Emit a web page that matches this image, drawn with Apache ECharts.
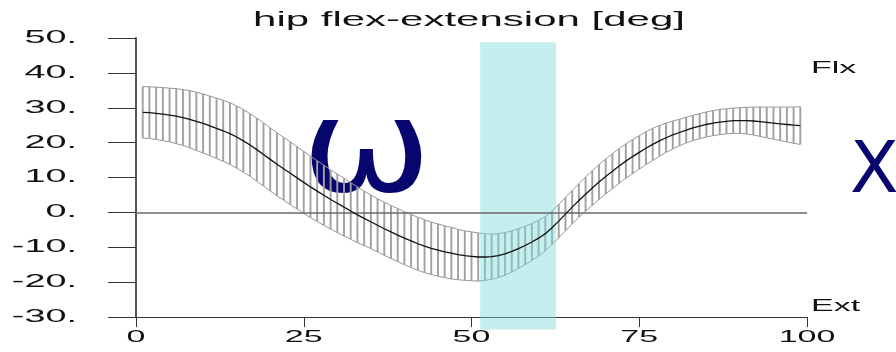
<!DOCTYPE html>
<html><head><meta charset="utf-8">
<script src="https://cdn.jsdelivr.net/npm/echarts@6/dist/echarts.min.js"></script>
<style>html,body{margin:0;padding:0;background:#fff}#c{width:896px;height:352px}</style>
</head><body><div id="c"></div>
<script>
const titleText = 'hip flex-extension [deg]';
const xValues = [1,2,3,4,5,6,7,8,9,10,11,12,13,14,15,16,17,18,19,20,21,22,23,24,25,26,27,28,29,30,31,32,33,34,35,36,37,38,39,40,41,42,43,44,45,46,47,48,49,50,51,52,53,54,55,56,57,58,59,60,61,62,63,64,65,66,67,68,69,70,71,72,73,74,75,76,77,78,79,80,81,82,83,84,85,86,87,88,89,90,91,92,93,94,95,96,97,98,99];
const meanValues = [28.7,28.6,28.4,28.2,27.9,27.6,27.2,26.7,26.1,25.5,24.8,24.1,23.4,22.6,21.6,20.5,19.3,18.0,16.6,15.2,13.8,12.5,11.2,9.9,8.6,7.3,6.1,4.9,3.7,2.6,1.5,0.4,-0.7,-1.7,-2.7,-3.7,-4.7,-5.6,-6.5,-7.4,-8.2,-9.0,-9.7,-10.3,-10.8,-11.3,-11.7,-12.1,-12.4,-12.6,-12.8,-12.8,-12.7,-12.4,-11.9,-11.2,-10.4,-9.5,-8.5,-7.4,-6.1,-4.4,-2.5,-0.5,1.5,3.4,5.2,7.0,8.7,10.3,11.8,13.3,14.7,16.0,17.2,18.4,19.5,20.5,21.4,22.2,22.9,23.6,24.2,24.7,25.2,25.6,25.9,26.1,26.3,26.3,26.3,26.2,26.0,25.8,25.6,25.4,25.2,25.0,24.9];
const sdValues = [7.4,7.4,7.5,7.6,7.7,7.9,8.0,8.2,8.35,8.45,8.55,8.65,8.75,8.85,8.9,8.95,9.0,9.05,9.05,9.05,9.05,9.0,9.0,8.9,8.9,8.8,8.7,8.6,8.5,8.4,8.3,8.1,8.0,7.8,7.7,7.6,7.6,7.6,7.6,7.6,7.6,7.6,7.6,7.5,7.5,7.4,7.4,7.2,7.1,7.0,6.9,6.7,6.5,6.3,6.1,5.9,5.7,5.5,5.3,5.1,4.9,4.8,4.8,4.8,4.8,4.8,4.9,5.0,5.0,5.0,5.0,5.0,4.9,4.9,4.8,4.7,4.6,4.4,4.2,4.0,3.8,3.7,3.6,3.6,3.6,3.6,3.6,3.6,3.6,3.7,3.8,4.0,4.2,4.4,4.6,4.8,5.0,5.2,5.4];
const xTickValues = [0, 25, 50, 75, 100];
const xTickLabels = ['0', '25', '50', '75', '100'];
const yTickValues = [50, 40, 30, 20, 10, 0, -10, -20, -30];
const yTickLabels = ['50.', '40.', '30.', '20.', '10.', '0.', '-10.', '-20.', '-30.'];
const highlightX = [51.3, 62.6];
const highlightY = [48.8, -33.6];
const sideLabels = ['Flx', 'Ext'];
const overlayGlyphs = ['\u03C9', 'X'];

const chart = echarts.init(document.getElementById('c'), null, {renderer: 'canvas'});
const FONT_FAMILY = '"Liberation Sans", Arial, Helvetica, sans-serif';
const GLYPH_FAMILY = '"DejaVu Sans", sans-serif';
const measureCtx = document.createElement('canvas').getContext('2d');
function textWidth(t, size, family) {
  measureCtx.font = size + 'px ' + (family || FONT_FAMILY);
  return measureCtx.measureText(t).width;
}

function txt(x, y, text, align, vAlign, size, fill, sx, family) {
  return {
    type: 'text', x: x, y: y, scaleX: sx, silent: true,
    style: {
      text: text, fontSize: size, fontFamily: family || FONT_FAMILY, fill: fill,
      align: align, verticalAlign: vAlign, textAlign: align, textVerticalAlign: vAlign
    }
  };
}
// horizontally stretched text placed by its centre
function txtRight(rightX, y, text, size, fill, sx) {
  const w = textWidth(text, size) * sx;
  return txt(rightX - w / 2, y, text, 'center', 'middle', size, fill, sx);
}
function txtLeft(leftX, y, text, size, fill, sx, family) {
  const w = textWidth(text, size, family) * sx;
  return txt(leftX + w / 2, y, text, 'center', 'middle', size, fill, sx, family);
}

const baseGraphics = [
  txt(469, 20, titleText, 'center', 'middle', 21, '#111', 2),
  txtLeft(811, 68, sideLabels[0], 17, '#111', 2),
  txtLeft(811, 306, sideLabels[1], 17, '#111', 2),
  txt(366.5, 157.5, overlayGlyphs[0], 'center', 'middle', 130, '#06066e', 1.2, GLYPH_FAMILY),
  txtLeft(850, 173.5, overlayGlyphs[1], 71, '#06066e', 1, GLYPH_FAMILY)
];

const option = {
  animation: false,
  backgroundColor: '#ffffff',
  grid: {left: 136, right: 89, top: 38, bottom: 35},
  xAxis: {
    type: 'value', min: 0, max: 100, interval: 25,
    axisLine: {show: true, onZero: false, lineStyle: {color: '#333', width: 1}},
    axisTick: {show: true, inside: false, length: 10, lineStyle: {color: '#333', width: 1}},
    axisLabel: {show: false},
    splitLine: {show: false}
  },
  yAxis: {
    type: 'value', min: -30, max: 50, interval: 10,
    axisLine: {show: true, onZero: false, lineStyle: {color: '#555', width: 2}},
    axisTick: {show: true, inside: false, length: 28, lineStyle: {color: '#333', width: 1}},
    axisLabel: {show: false},
    splitLine: {show: false}
  },
  graphic: baseGraphics,
  series: [
    {
      type: 'custom', name: 'sd-hatch', z: 1, silent: true, clip: false,
      data: xValues.map((x, i) => [x, meanValues[i], sdValues[i]]),
      encode: {x: 0, y: 1},
      renderItem: function (params, api) {
        const x = api.value(0), m = api.value(1), s = api.value(2);
        const p1 = api.coord([x, m + s]), p2 = api.coord([x, m - s]);
        return {type: 'line', shape: {x1: p1[0], y1: p1[1], x2: p2[0], y2: p2[1]},
          style: {stroke: '#a0a0a0', lineWidth: 1.9}};
      }
    },
    {
      type: 'line', name: 'upper', z: 2, silent: true, showSymbol: false, symbol: 'none',
      data: xValues.map((x, i) => [x, meanValues[i] + sdValues[i]]),
      lineStyle: {color: '#999', width: 1}
    },
    {
      type: 'line', name: 'lower', z: 2, silent: true, showSymbol: false, symbol: 'none',
      data: xValues.map((x, i) => [x, meanValues[i] - sdValues[i]]),
      lineStyle: {color: '#999', width: 1}
    },
    {
      type: 'custom', name: 'highlight', z: 3, silent: true, clip: false,
      data: [[highlightX[0], highlightY[0], highlightX[1], highlightY[1]]],
      encode: {x: 0, y: 1},
      renderItem: function (params, api) {
        const a = api.coord([api.value(0), api.value(1)]);
        const b = api.coord([api.value(2), api.value(3)]);
        return {type: 'rect', shape: {x: a[0], y: a[1], width: b[0] - a[0], height: b[1] - a[1]},
          style: {fill: 'rgba(120,215,215,0.43)'}};
      }
    },
    {
      type: 'line', name: 'mean', z: 5, silent: true, showSymbol: false, symbol: 'none',
      data: xValues.map((x, i) => [x, meanValues[i]]),
      lineStyle: {color: '#111', width: 1.3},
      markLine: {
        silent: true, symbol: ['none', 'none'], label: {show: false},
        lineStyle: {color: '#6a6a6a', width: 1.5, type: 'solid'},
        data: [{yAxis: 0}]
      }
    }
  ]
};
chart.setOption(option);

// Tick labels: placed through the chart's own axis scales, stretched like the reference.
const labelGraphics = [];
yTickValues.forEach(function (v, i) {
  const p = chart.convertToPixel({gridIndex: 0}, [0, v]);
  labelGraphics.push(txtRight(p[0] - 59, p[1], yTickLabels[i], 18, '#111', 2.1));
});
xTickValues.forEach(function (v, i) {
  const p = chart.convertToPixel({gridIndex: 0}, [v, -30]);
  labelGraphics.push(txt(p[0], p[1] + 20, xTickLabels[i], 'center', 'middle', 17, '#111', 2));
});
chart.setOption({graphic: baseGraphics.concat(labelGraphics)});
</script></body></html>
